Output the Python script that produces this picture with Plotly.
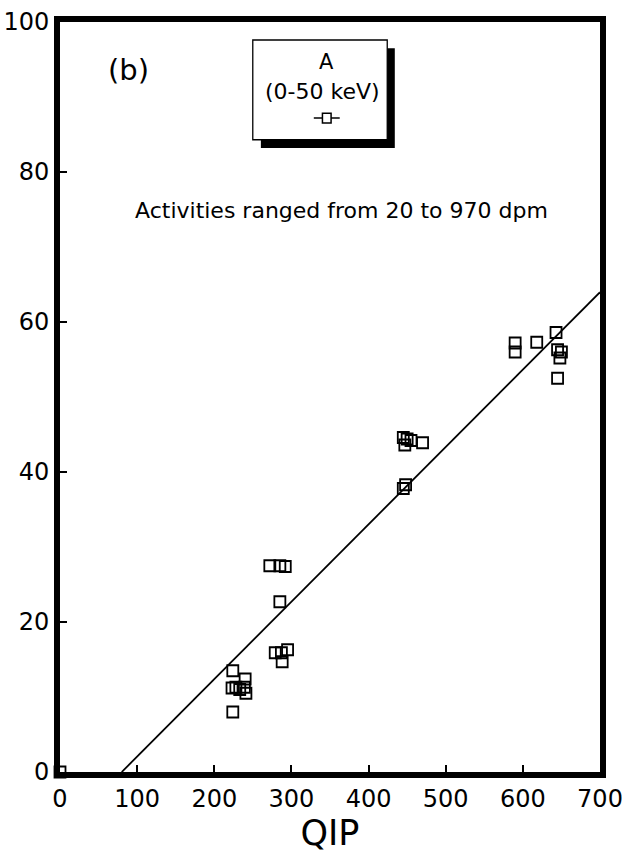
import plotly.graph_objects as go

# Data
qip = [0,
       224, 228, 223, 240, 239, 241, 224, 233,
       272, 285, 292, 285, 279, 287, 295, 288,
       445, 450, 447, 455, 470,
       445, 448,
       590, 590, 618, 643, 645, 648, 650, 645]
counts = [0,
          13.5, 11.3, 11.2, 12.4, 11.3, 10.5, 8.0, 11.0,
          27.5, 27.5, 27.4, 22.7, 15.9, 15.9, 16.3, 14.7,
          44.6, 44.4, 43.6, 44.2, 43.9,
          37.8, 38.3,
          57.2, 56.0, 57.3, 58.6, 56.3, 55.2, 56.0, 52.5]

fit_slope = 0.1032
fit_intercept = -8.26
fit_x = [80, 700]

x_ticks = [0, 100, 200, 300, 400, 500, 600, 700]
y_ticks = [0, 20, 40, 60, 80, 100]

FONT = "DejaVu Sans"

fig = go.Figure()
fig.add_trace(go.Scatter(
    x=fit_x, y=[fit_slope * v + fit_intercept for v in fit_x],
    mode="lines", line=dict(color="black", width=1.8),
    hoverinfo="skip", showlegend=False))
fig.add_trace(go.Scatter(
    x=qip, y=counts, mode="markers",
    marker=dict(symbol="square-open", size=11, color="black",
                line=dict(width=1.8, color="black")),
    cliponaxis=False, showlegend=False))

# legend box with shadow (paper coords)
fig.add_shape(type="rect", xref="paper", yref="paper",
              x0=0.372, x1=0.620, y0=0.832, y1=0.965,
              fillcolor="black", line=dict(width=0), layer="above")
fig.add_shape(type="rect", xref="paper", yref="paper",
              x0=0.357, x1=0.606, y0=0.843, y1=0.976,
              fillcolor="white", line=dict(width=1.3, color="black"), layer="above")
# legend symbol
fig.add_shape(type="line", xref="paper", yref="paper",
              x0=0.470, x1=0.518, y0=0.872, y1=0.872,
              line=dict(width=1.5, color="black"), layer="above")
fig.add_shape(type="rect", xref="paper", yref="paper",
              x0=0.486, x1=0.502, y0=0.8655, y1=0.8785,
              fillcolor="white", line=dict(width=1.5, color="black"), layer="above")

def note(text, x, y, size):
    fig.add_annotation(text=text, xref="paper", yref="paper", x=x, y=y,
                       xanchor="center", yanchor="middle", showarrow=False,
                       font=dict(family=FONT, size=size, color="black"))

note("A", 0.494, 0.947, 21)
note("(0-50 keV)", 0.487, 0.907, 22)
note("(b)", 0.126, 0.936, 29)
note("Activities ranged from 20 to 970 dpm", 0.522, 0.749, 22)

fig.update_layout(
    width=622, height=861,
    margin=dict(l=60, r=22, t=22, b=89, autoexpand=False),
    paper_bgcolor="white", plot_bgcolor="white",
    font=dict(family=FONT, color="black"),
    showlegend=False,
)
fig.update_xaxes(
    range=[0, 700], tickvals=x_ticks, ticktext=[str(v) for v in x_ticks],
    showgrid=False, zeroline=False, automargin=False,
    showline=True, linewidth=6, linecolor="black", mirror=True,
    ticks="inside", ticklen=7, tickwidth=1.5, tickcolor="black",
    tickfont=dict(family=FONT, size=24), ticklabeloverflow="allow",
    title=dict(text="QIP", font=dict(family=FONT, size=35), standoff=10),
)
fig.update_yaxes(
    range=[0, 100], tickvals=y_ticks, ticktext=[str(v) for v in y_ticks],
    showgrid=False, zeroline=False, automargin=False,
    showline=True, linewidth=6, linecolor="black", mirror=True,
    ticks="inside", ticklen=7, tickwidth=1.5, tickcolor="black",
    tickfont=dict(family=FONT, size=24), ticklabeloverflow="allow",
)

fig.write_html(
    "out.html",
    config={"displayModeBar": False},
    post_script="document.body.style.margin='0';document.body.style.overflow='hidden';",
)
